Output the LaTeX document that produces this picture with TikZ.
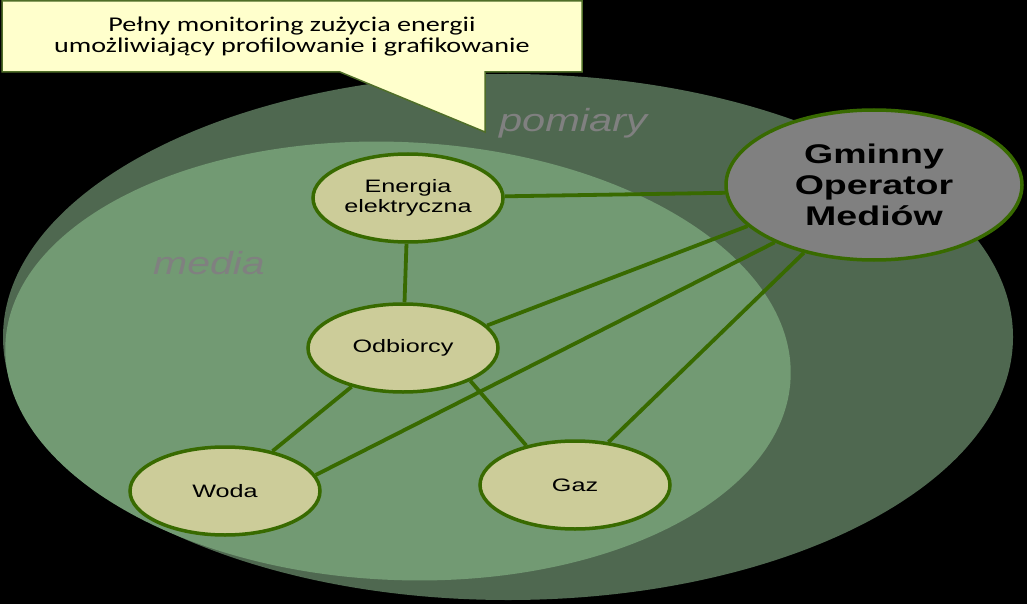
\documentclass[tikz,border=0pt]{standalone}
\usepackage{fontspec}
\usepackage{graphicx}
\setmainfont{Liberation Sans}
\newfontfamily\calfont{Carlito}
\usetikzlibrary{shapes.geometric}
\definecolor{bgouter}{RGB}{79,104,80}
\definecolor{bginner}{RGB}{114,154,115}
\definecolor{nodefill}{RGB}{204,204,153}
\definecolor{edgegreen}{RGB}{56,106,0}
\definecolor{callfill}{RGB}{255,255,204}
\definecolor{callline}{RGB}{79,110,40}
\definecolor{labelgray}{RGB}{128,128,128}
\definecolor{gomfill}{RGB}{128,128,128}
\newcommand{\nt}[1]{\scalebox{1.4}[1]{#1}}
\newcommand{\gt}[1]{\scalebox{1.39}[1]{#1}}
\newcommand{\ct}[1]{\scalebox{1.34}[1]{#1}}
\begin{document}
\begin{tikzpicture}[x=1pt,y=-1pt,
  medium/.style={ellipse, draw=edgegreen, line width=3.5pt, fill=nodefill,
    inner sep=0pt, minimum width=190pt, minimum height=88pt, align=center,
    font=\fontsize{18}{20}\selectfont},
  operator/.style={ellipse, draw=edgegreen, line width=3.5pt, fill=gomfill,
    inner sep=0pt, minimum width=296pt, minimum height=150pt, align=center,
    font=\bfseries\fontsize{27}{31}\selectfont},
  link/.style={draw=edgegreen, line width=3.8pt},
  zone/.style={text=labelgray, font=\itshape\fontsize{32}{32}\selectfont, anchor=base, inner sep=0pt},
  callout/.style={fill=callfill, draw=callline, line width=1.5pt, line join=miter}]
\useasboundingbox (0,0) rectangle (1027,604);
\fill[black] (0,0) rectangle (1027,604);
% zones
\fill[bgouter] (508,337) ellipse [x radius=505pt, y radius=263pt];
\fill[bginner, rotate around={-2.5:(398,361)}] (398,361) ellipse [x radius=393pt, y radius=219pt];
\node[zone] (pomiary) at (573,132) {\scalebox{1.3}[1]{pomiary}};
\node[zone] (media) at (209,274) {\scalebox{1.28}[1]{media}};
% callout
\draw[callout] (2,1) -- (582,1) -- (582,72) -- (485,72) -- (485,132) -- (340,72) -- (2,72) -- cycle;
\node[font=\calfont\fontsize{21}{21}\selectfont, align=center, inner sep=0pt] (calltext) at (292,37)
  {\ct{Pełny monitoring zużycia energii}\\\ct{umożliwiający profilowanie i grafikowanie}};
% nodes
\node[medium] (en) at (408,198) {\nt{Energia}\\\nt{elektryczna}};
\node[medium] (odb) at (403,348) {\nt{Odbiorcy}};
\node[medium] (woda) at (225,491) {\nt{Woda}};
\node[medium] (gaz) at (575,485) {\nt{Gaz}};
\node[operator] (gom) at (874,185) {\gt{Gminny}\\\gt{Operator}\\\gt{Mediów}};
% links
\draw[link] (en.1) -- (gom.183);
\draw[link] (en) -- (odb);
\draw[link] (odb.15) -- (gom.198);
\draw[link] (woda.10) -- (gom.210);
\draw[link] (gaz.52) -- (gom.224);
\draw[link] (odb.217) -- (woda.40);
\draw[link] (odb.334) -- (gaz.141);
\end{tikzpicture}
\end{document}
